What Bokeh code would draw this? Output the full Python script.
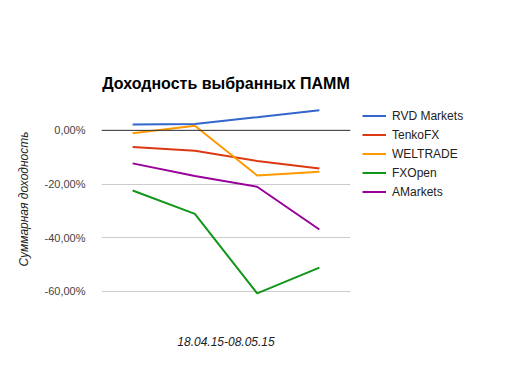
from bokeh.plotting import figure
from bokeh.models import Range1d, FixedTicker, CustomJSTickFormatter, Span, Legend, LegendItem
from bokeh.embed import file_html
from bokeh.resources import INLINE

periods = [0, 1, 2, 3]
rvd = [2.2, 2.4, 4.9, 7.5]
tenko = [-6.2, -7.6, -11.4, -14.2]
weltrade = [-1.1, 1.7, -16.8, -15.4]
fxopen = [-22.4, -31.1, -60.7, -51.1]
amarkets = [-12.3, -17.0, -21.0, -36.9]
names = ["RVD Markets", "TenkoFX", "WELTRADE", "FXOpen", "AMarkets"]
colors = ["#3366cc", "#dc3912", "#ff9900", "#109618", "#990099"]
yticks = [0, -20, -40, -60]

FONT = "Liberation Sans"

p = figure(width=529, height=371, output_backend="svg", toolbar_location=None,
           x_range=Range1d(-0.5, 3.5), y_range=Range1d(-61.12, 10),
           frame_width=249, frame_height=191,
           min_border_left=101, min_border_top=103, min_border_right=179, min_border_bottom=77)
p.outline_line_color = None
p.background_fill_color = "white"
p.border_fill_color = "white"

p.title.text = "Доходность выбранных ПАММ"
p.title.align = "center"
p.title.text_font = FONT
p.title.text_font_size = "16px"
p.title.text_font_style = "bold"
p.title.text_color = "#000000"
p.title.standoff = 24

p.yaxis.ticker = FixedTicker(ticks=yticks)
p.yaxis.formatter = CustomJSTickFormatter(code="return tick.toFixed(2).replace('.', ',') + '%';")
p.yaxis.axis_line_color = None
p.yaxis.major_tick_line_color = None
p.yaxis.minor_tick_line_color = None
p.yaxis.major_tick_out = 0
p.yaxis.major_tick_in = 0
p.yaxis.minor_tick_out = 0
p.yaxis.major_label_text_font = FONT
p.yaxis.major_label_text_font_size = "11px"
p.yaxis.major_label_text_color = "#444444"
p.yaxis.major_label_standoff = 16
p.yaxis.axis_label = "Суммарная доходность"
p.yaxis.axis_label_text_font = FONT
p.yaxis.axis_label_text_font_size = "12px"
p.yaxis.axis_label_text_font_style = "italic"
p.yaxis.axis_label_text_color = "#222222"
p.yaxis.axis_label_standoff = 11

p.xaxis.ticker = FixedTicker(ticks=[])
p.xaxis.axis_line_color = None
p.xaxis.major_tick_line_color = None
p.xaxis.minor_tick_line_color = None
p.xaxis.major_label_text_font_size = "0px"
p.xaxis.axis_label = "18.04.15-08.05.15"
p.xaxis.axis_label_text_font = FONT
p.xaxis.axis_label_text_font_size = "12px"
p.xaxis.axis_label_text_font_style = "italic"
p.xaxis.axis_label_text_color = "#222222"
p.xaxis.axis_label_standoff = 42

p.xgrid.grid_line_color = None
p.ygrid.ticker = FixedTicker(ticks=yticks)
p.ygrid.grid_line_color = "#cccccc"

p.add_layout(Span(location=0, dimension="width", line_color="#333333", line_width=1))

items = []
for name, col, ys in zip(names, colors, [rvd, tenko, weltrade, fxopen, amarkets]):
    r = p.line(periods, ys, line_color=col, line_width=2)
    items.append(LegendItem(label=name, renderers=[r]))

legend = Legend(items=items, location=(12, 93), glyph_width=24, glyph_height=19,
                label_standoff=6, spacing=0, padding=0, margin=0,
                label_text_font=FONT, label_text_font_size="12px", label_text_color="#222222",
                background_fill_alpha=0, border_line_color=None, label_height=19)
p.add_layout(legend, "right")

open("out.html", "w").write(file_html(p, INLINE))
